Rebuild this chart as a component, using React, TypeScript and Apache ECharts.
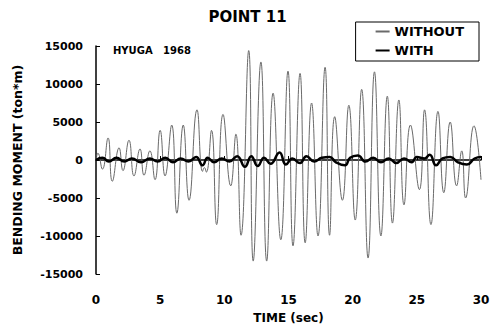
import React, { useEffect, useRef } from "react";
import * as echarts from "echarts";

const titleText = "POINT 11";
const quakeLabel = "HYUGA   1968";
const xTicks = [0, 5, 10, 15, 20, 25, 30];
const yTicks = [-15000, -10000, -5000, 0, 5000, 10000, 15000];

const withoutT = [0, 0.15, 0.5, 0.94, 1.27, 1.8, 2.1, 2.57, 2.96, 3.43, 3.74, 4.2, 4.6, 5.0, 5.38, 5.9, 6.3, 6.8, 7.25, 7.87, 8.3, 8.45, 8.6, 9.0, 9.4, 9.9, 10.5, 10.9, 11.3, 11.9, 12.25, 12.85, 13.3, 13.8, 14.4, 14.96, 15.35, 15.9, 16.3, 16.8, 17.3, 17.85, 18.2, 18.6, 19.2, 19.7, 20.2, 20.7, 21.2, 21.7, 22.2, 22.7, 23.1, 23.6, 24.0, 24.5, 25.2, 25.6, 26.1, 26.65, 27.1, 27.6, 28.1, 28.5, 28.8, 29.45, 30];
const withoutV = [0, 900, -1200, 2900, -2800, 1600, -1400, 2600, -2100, 1450, -2000, 1200, -2600, 3900, -2100, 4600, -7000, 4600, -5300, 6600, -1500, -1000, -1600, 3900, -8500, 6000, -3400, 3400, -9900, 14400, -13300, 12900, -13300, 8800, -10500, 11700, -11300, 11400, -10900, 7500, -10000, 12200, -9900, 5700, -5300, 7200, -7900, 9300, -12900, 11600, -10000, 8400, -8300, 7900, -5900, 4600, -3900, 6600, -8500, 6400, -4300, 5000, -3400, 1200, -5000, 4500, -2600];

const withT = [0, 0.5, 1.0, 1.6, 2.2, 2.8, 3.5, 4.2, 4.8, 5.4, 6.0, 6.6, 7.2, 7.8, 8.3, 8.7, 9.2, 9.8, 10.4, 11.0, 11.6, 12.1, 12.6, 13.1, 13.6, 14.3, 14.8, 15.3, 15.9, 16.4, 17.0, 17.6, 18.2, 18.7, 19.4, 19.8, 20.4, 21.0, 21.6, 22.2, 22.8, 23.4, 24.0, 24.6, 25.0, 25.6, 26.0, 26.5, 27.0, 27.6, 28.2, 28.9, 29.5, 30];
const withV = [0, 300, -200, 300, -200, 200, -300, 200, -200, 300, -300, 200, -200, 400, -700, 300, -300, 200, -200, 500, -900, 500, -800, 300, -500, 1000, -600, 200, -400, 500, -200, 300, 400, -300, -700, 300, 600, -200, 300, -300, 200, -400, 200, -300, 400, 200, 700, -700, 200, 400, -300, -600, 200, 400];

const FONT = "DejaVu Sans";

export default function App() {
  const ref = useRef<HTMLDivElement>(null);
  useEffect(() => {
    document.body.style.margin = "0";
    const chart = echarts.init(ref.current!, null, { renderer: "svg" });
    const withoutData = withoutT.map((t, i) => [t, withoutV[i]]);
    const withData = withT.map((t, i) => [t, withV[i]]);
    chart.setOption({
      animation: false,
      backgroundColor: "#fff",
      title: {
        text: titleText,
        left: "center",
        top: 9,
        padding: 0,
        textStyle: { fontFamily: FONT, fontWeight: "bold", fontSize: 15, color: "#000" },
      },
      legend: {
        orient: "vertical",
        right: 16,
        top: 22,
        padding: [3, 15, 4, 19],
        borderColor: "#000",
        borderWidth: 1,
        backgroundColor: "#fff",
        itemWidth: 14,
        itemHeight: 14,
        itemGap: 6,
        itemStyle: { opacity: 0 },
        textStyle: { fontFamily: FONT, fontWeight: "bold", fontSize: 13, color: "#000" },
        data: ["WITHOUT", "WITH"],
        z: 10,
      },
      grid: { left: 96, right: 14, top: 46, bottom: 57 },
      xAxis: {
        type: "value",
        min: 0,
        max: 30,
        interval: 5,
        name: "TIME (sec)",
        nameLocation: "middle",
        nameGap: 38,
        nameTextStyle: { fontFamily: FONT, fontWeight: "bold", fontSize: 12, color: "#000" },
        axisLine: { lineStyle: { color: "#000", width: 1.5 } },
        axisTick: { inside: true, length: 4, lineStyle: { color: "#000" } },
        axisLabel: {
          margin: 20,
          fontFamily: FONT,
          fontWeight: "bold",
          fontSize: 12,
          color: "#000",
          customValues: xTicks,
        },
        splitLine: { show: false },
      },
      yAxis: {
        type: "value",
        min: -15000,
        max: 15000,
        interval: 5000,
        name: "BENDING MOMENT (ton*m)",
        nameLocation: "middle",
        nameGap: 72,
        nameTextStyle: { fontFamily: FONT, fontWeight: "bold", fontSize: 12.5, color: "#000" },
        axisLine: { lineStyle: { color: "#000", width: 1.5 } },
        axisTick: { inside: true, length: 4, lineStyle: { color: "#000" } },
        axisLabel: {
          margin: 13,
          fontFamily: FONT,
          fontWeight: "bold",
          fontSize: 11,
          color: "#000",
          customValues: yTicks,
          formatter: (v: number) => String(v),
        },
        splitLine: { show: false },
      },
      graphic: [
        {
          type: "text",
          left: 113,
          top: 45,
          style: { text: quakeLabel, fontFamily: FONT, fontWeight: "bold", fontSize: 10, fill: "#000" },
        },
      ],
      series: [
        {
          name: "WITHOUT",
          type: "line",
          data: withoutData,
          smooth: 0.5,
          showSymbol: false,
          symbol: "none",
          lineStyle: { color: "#6a6a6a", width: 1 },
          itemStyle: { color: "#6a6a6a" },
          z: 2,
        },
        {
          name: "WITH",
          type: "line",
          data: withData,
          smooth: 0.5,
          showSymbol: false,
          symbol: "none",
          lineStyle: { color: "#000", width: 2.5 },
          itemStyle: { color: "#000" },
          z: 3,
        },
      ],
    });
    return () => chart.dispose();
  }, []);
  return <div ref={ref} style={{ width: 495, height: 331 }} />;
}
